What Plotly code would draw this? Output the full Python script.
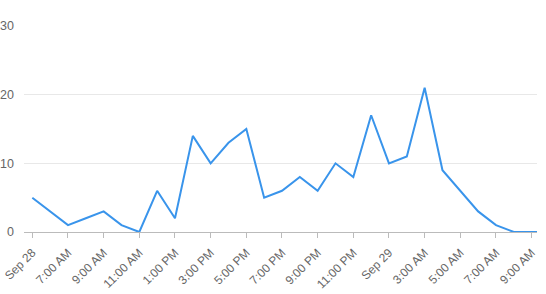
import plotly.graph_objects as go
import pandas as pd

times = pd.date_range("2023-09-28 05:00", "2023-09-29 10:00", freq="h")
values = [5, 3, 1, 2, 3, 1, 0, 6, 2, 14, 10, 13, 15, 5, 6, 8, 6, 10, 8, 17,
          10, 11, 21, 9, 6, 3, 1, 0, 0, 0]

tick_times = pd.date_range("2023-09-28 05:00", "2023-09-29 09:00", freq="2h")
tick_labels = ["Sep 28", "7:00 AM", "9:00 AM", "11:00 AM", "1:00 PM", "3:00 PM",
               "5:00 PM", "7:00 PM", "9:00 PM", "11:00 PM", "Sep 29", "3:00 AM",
               "5:00 AM", "7:00 AM", "9:00 AM"]

fig = go.Figure(go.Scatter(
    x=times, y=values, mode="lines",
    line=dict(color="#3994eb", width=2),
    hoverinfo="x+y",
))

fig.update_layout(
    width=546, height=294,
    margin=dict(l=24, r=9, t=26, b=62),
    paper_bgcolor="white", plot_bgcolor="white",
    showlegend=False,
    font=dict(family="Liberation Sans, Arial, sans-serif", size=11, color="#666666"),
    xaxis=dict(
        range=[pd.Timestamp("2023-09-28 04:32"), pd.Timestamp("2023-09-29 09:18")],
        tickvals=tick_times, ticktext=tick_labels, tickangle=-45,
        showgrid=False, zeroline=False, automargin=False,
        showline=True, linecolor="#bbbbbb", linewidth=1,
        ticks="outside", ticklen=5, tickcolor="#bbbbbb",
        ticklabelstandoff=3,
        tickfont=dict(size=12, color="#666666"),
    ),
    yaxis=dict(
        range=[0, 30], tickvals=[0, 10, 20, 30],
        showgrid=True, gridcolor="#e8e8e8", gridwidth=1,
        zeroline=False, showline=False, automargin=False,
        ticks="", ticklabelstandoff=9,
        tickfont=dict(size=12.5, color="#666666"),
    ),
)

fig.write_html("out.html")
